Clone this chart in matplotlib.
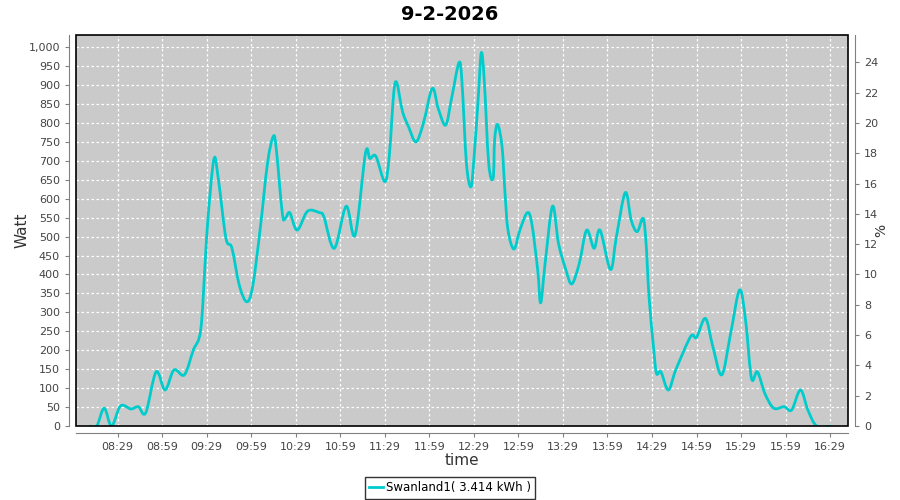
import matplotlib
matplotlib.use('Agg')
import matplotlib.pyplot as plt
from matplotlib.patches import Rectangle, PathPatch
from matplotlib.path import Path
from matplotlib.lines import Line2D
from matplotlib.ticker import FuncFormatter, MultipleLocator

plt.rcParams['font.family'] = ['DejaVu Sans']

# data (clock time, watt)
times = ["08:10", "08:15", "08:20", "08:25", "08:31", "08:38", "08:43", "08:48",
         "08:55", "09:01", "09:07", "09:14", "09:20", "09:25", "09:28", "09:30",
         "09:34", "09:37", "09:42", "09:46", "09:51", "09:56", "10:00", "10:05",
         "10:10", "10:14", "10:16", "10:20", "10:22", "10:25", "10:30", "10:37",
         "10:45", "10:48", "10:55", "11:03", "11:09", "11:16", "11:19", "11:23",
         "11:29", "11:32", "11:36", "11:41", "11:45", "11:50", "11:55", "12:01",
         "12:05", "12:10", "12:14", "12:19", "12:21", "12:24", "12:27", "12:29",
         "12:32", "12:34", "12:36", "12:39", "12:42", "12:43", "12:45", "12:48",
         "12:50", "12:52", "12:56", "13:00", "13:05", "13:08", "13:12", "13:14",
         "13:17", "13:22", "13:26", "13:31", "13:35", "13:40", "13:45", "13:50",
         "13:54", "14:01", "14:05", "14:11", "14:15", "14:19", "14:23", "14:25",
         "14:27", "14:30", "14:32", "14:35", "14:40", "14:45", "14:55", "14:59",
         "15:05", "15:10", "15:16", "15:22", "15:28", "15:32", "15:36", "15:40",
         "15:45", "15:51", "15:58", "16:03", "16:09", "16:14", "16:20", "16:30"]
watt = [0, 0, 47, 0, 53, 45, 51, 35,
        143, 95, 148, 135, 200, 253, 430, 552,
        706, 649, 496, 470, 372, 328, 368, 517,
        693, 765, 728, 561, 548, 563, 517, 567,
        563, 552, 469, 580, 504, 720, 706, 712,
        645, 711, 906, 829, 790, 750, 799, 891,
        838, 794, 865, 959, 908, 693, 631, 702,
        869, 985, 913, 693, 654, 755, 796, 737,
        614, 517, 467, 517, 563, 535, 412, 325,
        429, 580, 482, 412, 375, 429, 517, 469,
        517, 413, 499, 616, 543, 513, 548, 482,
        341, 209, 139, 143, 95, 148, 236, 234,
        284, 209, 135, 245, 359, 280, 126, 143,
        86, 47, 51, 42, 95, 42, 0, 0]

tick_labels = ["08:29", "08:59", "09:29", "09:59", "10:29", "10:59", "11:29", "11:59",
               "12:29", "12:59", "13:29", "13:59", "14:29", "14:59", "15:29", "15:59",
               "16:29"]

series_name = "Swanland1( 3.414 kWh )"
title = "9-2-2026"
line_color = '#00cccc'


def to_min(s):
    h, m = s.split(":")
    return int(h) * 60 + int(m)


def spline_path(xs, ys):
    # catmull-rom -> cubic bezier, drawn by matplotlib's Path
    pts = list(zip(xs, ys))
    verts = [pts[0]]
    codes = [Path.MOVETO]
    n = len(pts)
    for i in range(n - 1):
        p0 = pts[i - 1] if i > 0 else pts[i]
        p1 = pts[i]
        p2 = pts[i + 1]
        p3 = pts[i + 2] if i + 2 < n else pts[i + 1]
        c1 = (p1[0] + (p2[0] - p0[0]) / 6, p1[1] + (p2[1] - p0[1]) / 6)
        c2 = (p2[0] - (p3[0] - p1[0]) / 6, p2[1] - (p3[1] - p1[1]) / 6)
        verts += [c1, c2, p2]
        codes += [Path.CURVE4] * 3
    return Path(verts, codes)


x = [to_min(t) for t in times]
xt = [to_min(t) for t in tick_labels]

fig = plt.figure(figsize=(9, 5), dpi=100)
ax = fig.add_axes([0.0844, 0.148, 0.8578, 0.782])
ax.set_facecolor('#cacaca')

ax.add_patch(PathPatch(spline_path(x, watt), fill=False, ec=line_color,
                       lw=2, joinstyle='round', zorder=3))

ax.set_xlim(481, 1001)
ax.set_ylim(0, 1032)
ax.yaxis.set_major_locator(MultipleLocator(50))
ax.yaxis.set_major_formatter(FuncFormatter(lambda v, p: f"{int(v):,}"))
ax.set_xticks(xt)
ax.set_xticklabels(tick_labels)
ax.grid(True, color='white', ls=(0, (2, 2)), lw=0.9, zorder=1)
ax.set_axisbelow(True)

for s in ['top', 'right']:
    ax.spines[s].set_visible(False)
for s in ['left', 'bottom']:
    ax.spines[s].set_position(('outward', 5))
    ax.spines[s].set_color('#808080')
ax.tick_params(axis='both', colors='#808080', labelcolor='#444444',
               labelsize=8, length=3, width=0.8)
ax.add_patch(Rectangle((0, 0), 1, 1, transform=ax.transAxes, fill=False,
                       ec='black', lw=1.2, zorder=5, clip_on=False))

ax2 = ax.twinx()
ax2.set_ylim(0, 25.8)
ax2.yaxis.set_major_locator(MultipleLocator(2))
for s in ['top', 'left', 'bottom']:
    ax2.spines[s].set_visible(False)
ax2.spines['right'].set_position(('outward', 5))
ax2.spines['right'].set_color('#808080')
ax2.tick_params(axis='y', colors='#808080', labelcolor='#444444',
                labelsize=8, length=3, width=0.8)

ax.set_ylabel("Watt", fontsize=11, color='#333333')
ax.yaxis.set_label_coords(-0.06, 0.5)
ax.set_xlabel("time", fontsize=11, color='#333333')
ax.xaxis.set_label_coords(0.5, -0.07)
ax2.set_ylabel("%", fontsize=10, color='#333333')
ax2.yaxis.set_label_coords(1.034, 0.5)

fig.text(0.5, 0.972, title, ha='center', va='center', fontsize=14,
         fontweight='bold')

handle = Line2D([], [], color=line_color, lw=2)
leg = fig.legend([handle], [series_name], loc='center',
                 bbox_to_anchor=(0.5, 0.024), fontsize=8.5, frameon=True,
                 fancybox=False, handlelength=1.2, handletextpad=0.3,
                 borderpad=0.35, borderaxespad=0)
leg.get_frame().set_edgecolor('black')
leg.get_frame().set_linewidth(1.0)

fig.savefig('out.png', dpi=100, facecolor='white')
